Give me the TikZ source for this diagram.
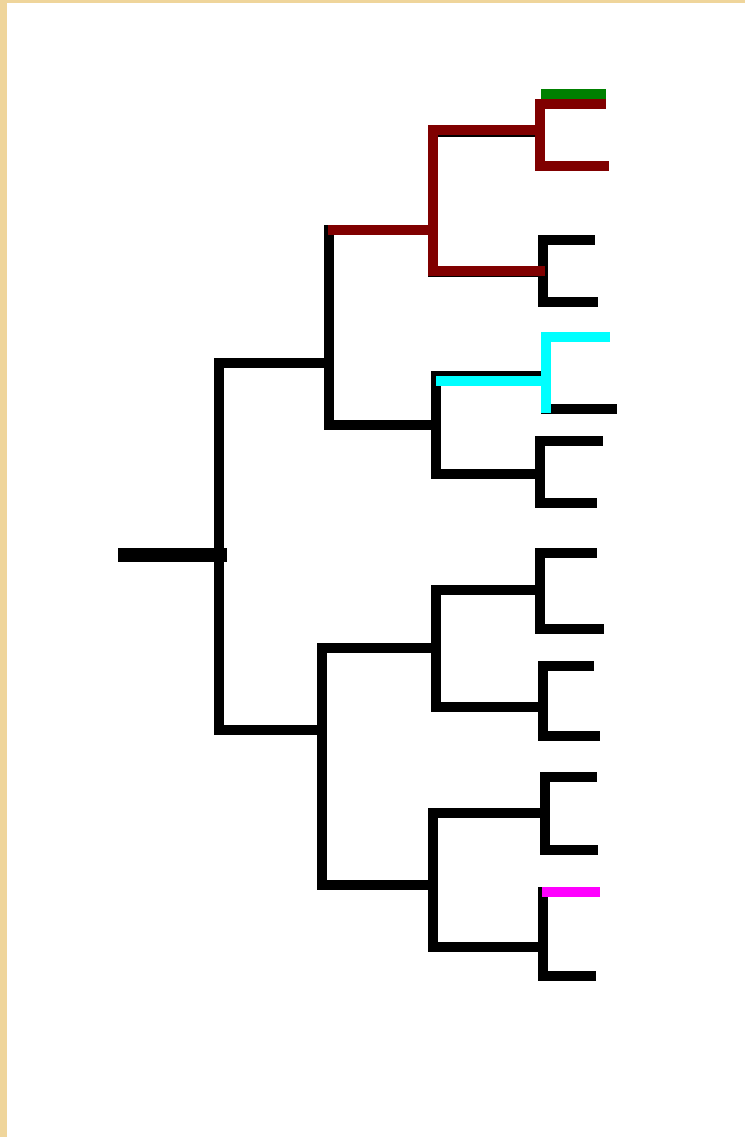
\documentclass[tikz,border=0pt]{standalone}
\usepackage{tikz}
\usetikzlibrary{positioning}
\definecolor{parchment}{HTML}{EFD59B}
\definecolor{cladered}{HTML}{800000}
\definecolor{cladegreen}{HTML}{008000}
\definecolor{cladecyan}{HTML}{00FFFF}
\definecolor{clademagenta}{HTML}{FF00FF}
\tikzset{
  treeline/.style={line width=9.5pt, line cap=rect, line join=miter},
  rootline/.style={line width=14pt, line cap=butt},
  hlred/.style={treeline, cladered},
  hlgreen/.style={treeline, cladegreen},
  hlcyan/.style={treeline, cladecyan},
  hlmagenta/.style={treeline, clademagenta},
}

\begin{document}
\begin{tikzpicture}[x=1pt, y=-1pt]
  \useasboundingbox (0,0) rectangle (745,1137);
  \fill[parchment] (0,0) rectangle (745,1137);
  \fill[white] (7,3) rectangle (745,1137);
  % junctions
  \coordinate (stem) at (118,555);
  \coordinate (stemend) at (227,555);
  \coordinate (root) at (219,555);
  \coordinate (up) at (329,363);
  \coordinate (upA) at (433,230);
  \coordinate (upB) at (436,425);
  \coordinate (upAa) at (540,132);
  \coordinate (upAb) at (543,272);
  \coordinate (upBa) at (546,376);
  \coordinate (upBb) at (540,474);
  \coordinate (lo) at (322,730);
  \coordinate (loA) at (436,648);
  \coordinate (loB) at (433,885);
  \coordinate (loAa) at (540,590);
  \coordinate (loAb) at (543,707);
  \coordinate (loBa) at (545,813);
  \coordinate (loBb) at (543,947);
  % leaves
  \coordinate (t1) at (601,104);
  \coordinate (t2) at (604,166);
  \coordinate (t3) at (590,240);
  \coordinate (t4) at (593,302);
  \coordinate (t5) at (605,337);
  \coordinate (t6) at (612,409);
  \coordinate (t7) at (598,441);
  \coordinate (t8) at (592,503);
  \coordinate (t9) at (592,553);
  \coordinate (t10) at (599,629);
  \coordinate (t11) at (589,666);
  \coordinate (t12) at (595,736);
  \coordinate (t13) at (592,777);
  \coordinate (t14) at (593,850);
  \coordinate (t15) at (595,892);
  \coordinate (t16) at (591,976);
  \draw[rootline] (stem) -- (stemend);
  \draw[treeline] (root) |- (up) (root) |- (lo);
  \draw[treeline] (up) |- (upA) (up) |- (upB);
  \draw[treeline] (upA) |- (upAa) (upA) |- (upAb);
  \draw[treeline] (upB) |- (upBa) (upB) |- (upBb);
  \draw[treeline] (upAa) |- (t1) (upAa) |- (t2);
  \draw[treeline] (upAb) |- (t3) (upAb) |- (t4);
  \draw[treeline] (upBa) |- (t5) (upBa) |- (t6);
  \draw[treeline] (upBb) |- (t7) (upBb) |- (t8);
  \draw[treeline] (lo) |- (loA) (lo) |- (loB);
  \draw[treeline] (loA) |- (loAa) (loA) |- (loAb);
  \draw[treeline] (loB) |- (loBa) (loB) |- (loBb);
  \draw[treeline] (loAa) |- (t9) (loAa) |- (t10);
  \draw[treeline] (loAb) |- (t11) (loAb) |- (t12);
  \draw[treeline] (loBa) |- (t13) (loBa) |- (t14);
  \draw[treeline] (loBb) |- (t15) (loBb) |- (t16);
  % highlighted lineages
  \coordinate (redfrom) at (333,230);
  \coordinate (redA) at (540,130);
  \coordinate (redB) at (540,271);
  \draw[hlred] (redfrom) -- (upA) (upA) |- (redA) (upA) |- (redB);
  \draw[hlred] (redA) |- (t1) (redA) |- (t2);
  \coordinate (greenfrom) at (546,94);
  \coordinate (greento) at (601,94);
  \draw[hlgreen] (greenfrom) -- (greento);
  \coordinate (cyanfrom) at (441,381);
  \coordinate (cyanjoin) at (546,381);
  \coordinate (cyanend) at (546,408);
  \draw[hlcyan] (cyanfrom) -- (cyanjoin) |- (t5) (cyanjoin) -- (cyanend);
  \coordinate (magentafrom) at (547,892);
  \draw[hlmagenta] (magentafrom) -- (t15);
\end{tikzpicture}
\end{document}
